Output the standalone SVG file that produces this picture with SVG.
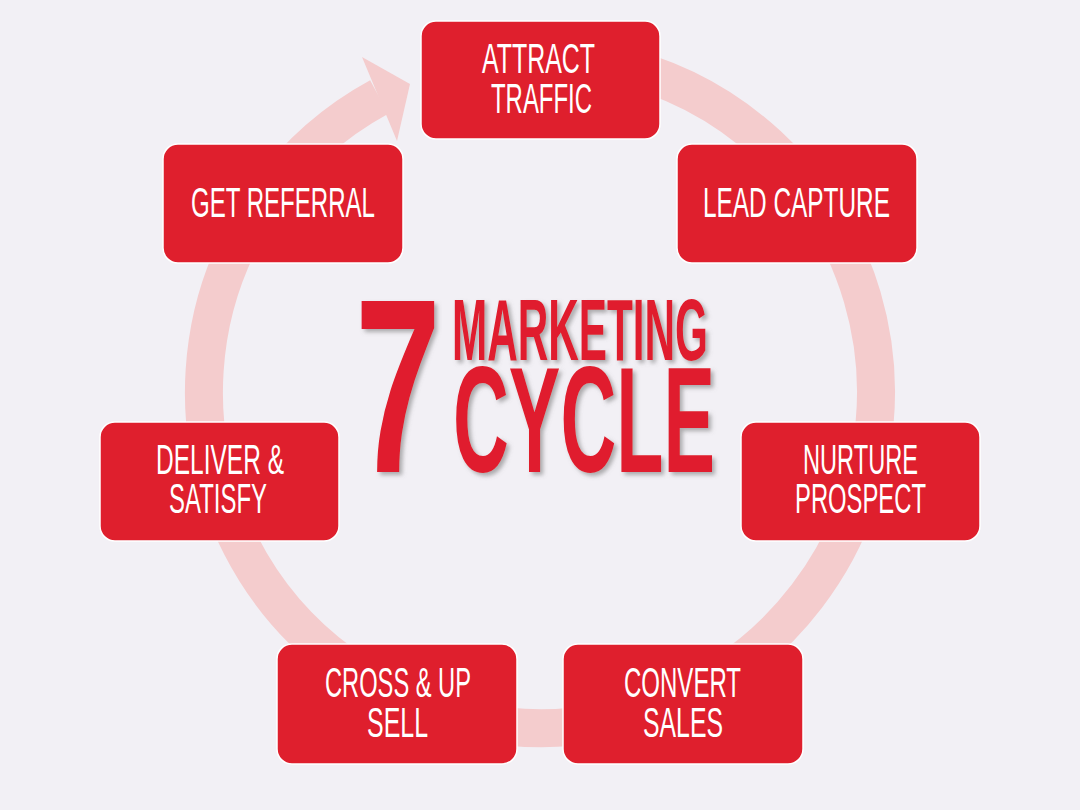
<svg xmlns="http://www.w3.org/2000/svg" width="1080" height="810" viewBox="0 0 1080 810">
<defs>
<style>
.bg{fill:#f2f0f5}
.ring{fill:none;stroke:#f4cccd;stroke-width:38}
.head{fill:#f4cccd}
.box{fill:#df1f2d;stroke:#ffffff;stroke-width:1.5}
.lbl{fill:#ffffff;font-family:"Liberation Sans",Arial,sans-serif;font-size:43px;text-anchor:start}
.ttl{fill:#e01e2d;font-family:"Liberation Sans",Arial,sans-serif;font-weight:bold;filter:url(#sh)}
</style>
<filter id="sh" x="-10%" y="-10%" width="130%" height="130%">
<feDropShadow dx="3" dy="3" stdDeviation="2" flood-color="#707070" flood-opacity="0.55"/>
</filter>
</defs>
<rect class="bg" x="0" y="0" width="1080" height="810"/>
<g id="connectors">
<path class="ring" d="M453,67.5 A336,336 0 1 1 379.2,97"/>
<polygon class="head" points="362,57 410,84 397,141"/>
</g>
<g id="title">
<text class="ttl" x="355" y="472" font-size="248" textLength="86" lengthAdjust="spacingAndGlyphs">7</text>
<text class="ttl" x="452" y="360" font-size="87" textLength="256" lengthAdjust="spacingAndGlyphs">MARKETING</text>
<text class="ttl" x="453" y="472" font-size="151" textLength="262" lengthAdjust="spacingAndGlyphs">CYCLE</text>
</g>
<g id="n1">
<rect class="box" x="421" y="21" width="239" height="118" rx="15"/>
<text class="lbl" x="482" y="73" textLength="113" lengthAdjust="spacingAndGlyphs">ATTRACT</text>
<text class="lbl" x="491" y="113" textLength="101" lengthAdjust="spacingAndGlyphs">TRAFFIC</text>
</g>
<g id="n2">
<rect class="box" x="677" y="144" width="240" height="119" rx="15"/>
<text class="lbl" x="703" y="217" textLength="187" lengthAdjust="spacingAndGlyphs">LEAD CAPTURE</text>
</g>
<g id="n3">
<rect class="box" x="741" y="422" width="239" height="119" rx="15"/>
<text class="lbl" x="803" y="474" textLength="115" lengthAdjust="spacingAndGlyphs">NURTURE</text>
<text class="lbl" x="795" y="513" textLength="131" lengthAdjust="spacingAndGlyphs">PROSPECT</text>
</g>
<g id="n4">
<rect class="box" x="563" y="644" width="240" height="120" rx="15"/>
<text class="lbl" x="624" y="697" textLength="117" lengthAdjust="spacingAndGlyphs">CONVERT</text>
<text class="lbl" x="643" y="737" textLength="80" lengthAdjust="spacingAndGlyphs">SALES</text>
</g>
<g id="n5">
<rect class="box" x="277" y="644" width="240" height="120" rx="15"/>
<text class="lbl" x="325" y="697" textLength="146" lengthAdjust="spacingAndGlyphs">CROSS &amp; UP</text>
<text class="lbl" x="367" y="737" textLength="61" lengthAdjust="spacingAndGlyphs">SELL</text>
</g>
<g id="n6">
<rect class="box" x="100" y="422" width="239" height="119" rx="15"/>
<text class="lbl" x="156" y="474" textLength="128" lengthAdjust="spacingAndGlyphs">DELIVER &amp;</text>
<text class="lbl" x="169" y="513" textLength="98" lengthAdjust="spacingAndGlyphs">SATISFY</text>
</g>
<g id="n7">
<rect class="box" x="163" y="144" width="240" height="119" rx="15"/>
<text class="lbl" x="191" y="217" textLength="184" lengthAdjust="spacingAndGlyphs">GET REFERRAL</text>
</g>
</svg>
